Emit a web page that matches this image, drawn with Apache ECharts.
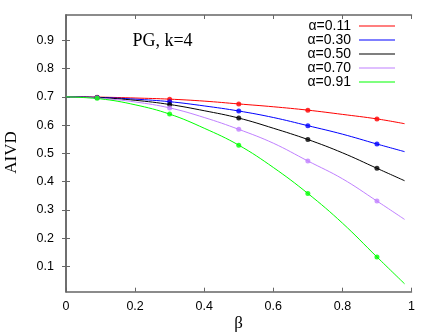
<!DOCTYPE html>
<html><head><meta charset="utf-8">
<script src="https://cdn.jsdelivr.net/npm/echarts@6/dist/echarts.min.js"></script>
<style>html,body{margin:0;padding:0;background:#fff}#c{width:436px;height:335px}</style>
</head><body><div id="c"></div>
<script>
const xLine = [0, 0.1, 0.2, 0.3, 0.4, 0.5, 0.6, 0.7, 0.8, 0.9, 0.98];
const xMark = [0.09, 0.3, 0.5, 0.7, 0.9];
const names = ['α=0.11', 'α=0.30', 'α=0.50', 'α=0.70', 'α=0.91'];
const colors = ['#ff0000', '#0000ff', '#000000', '#c080ff', '#00ff00'];
const line011 = [0.700, 0.699, 0.696, 0.692, 0.685, 0.675, 0.665, 0.653, 0.638, 0.622, 0.605];
const line030 = [0.700, 0.698, 0.692, 0.683, 0.668, 0.650, 0.627, 0.598, 0.568, 0.533, 0.506];
const line050 = [0.700, 0.697, 0.688, 0.673, 0.651, 0.625, 0.589, 0.549, 0.502, 0.447, 0.403];
const line070 = [0.700, 0.695, 0.682, 0.661, 0.627, 0.585, 0.536, 0.473, 0.410, 0.331, 0.266];
const line091 = [0.700, 0.693, 0.672, 0.639, 0.589, 0.529, 0.450, 0.358, 0.253, 0.133, 0.038];
const mark011 = [0.699, 0.692, 0.675, 0.653, 0.622];
const mark030 = [0.698, 0.683, 0.650, 0.598, 0.533];
const mark050 = [0.698, 0.673, 0.625, 0.549, 0.447];
const mark070 = [0.697, 0.661, 0.585, 0.473, 0.331];
const mark091 = [0.695, 0.639, 0.529, 0.358, 0.133];
const xTicks = [0, 0.2, 0.4, 0.6, 0.8, 1];
const yTicks = [0.1, 0.2, 0.3, 0.4, 0.5, 0.6, 0.7, 0.8, 0.9];

const lines = [line011, line030, line050, line070, line091];
const marks = [mark011, mark030, mark050, mark070, mark091];

const axisCol = '#666';
const lbl = {fontFamily: 'Liberation Sans', fontSize: 12.5, color: '#000'};
function xa(pos, show) {
  return {type: 'value', min: 0, max: 1, interval: 0.2, position: pos,
    axisLine: {show: true, lineStyle: {color: axisCol, width: 1.5}},
    axisTick: {show: true, inside: true, length: 4, lineStyle: {color: axisCol, width: 1}},
    axisLabel: Object.assign({show: show, margin: 8, formatter: v => (+v.toFixed(1)).toString()}, lbl),
    splitLine: {show: false}};
}
function ya(pos, show) {
  return {type: 'value', min: 0.01, max: 0.99, position: pos,
    axisLine: {show: true, lineStyle: {color: axisCol, width: 1.5}},
    axisTick: {show: true, inside: true, length: 4, customValues: yTicks, lineStyle: {color: axisCol, width: 1}},
    axisLabel: Object.assign({show: show, margin: 12, customValues: yTicks, formatter: v => v.toFixed(1)}, lbl),
    splitLine: {show: false}};
}
const series = [];
for (let i = 0; i < 5; i++) {
  series.push({name: names[i], type: 'line', xAxisIndex: 0, yAxisIndex: 0, smooth: 0.4,
    showSymbol: false, symbol: 'none', data: xLine.map((x, j) => [x, lines[i][j]]),
    lineStyle: {color: colors[i], width: 1}, itemStyle: {color: colors[i]}, z: 2 + i});
  series.push({name: 'm' + i, type: 'scatter', xAxisIndex: 0, yAxisIndex: 0,
    symbol: 'circle', symbolSize: 5, data: xMark.map((x, j) => [x, marks[i][j]]),
    itemStyle: {color: colors[i]}, z: 10 + i});
}
const chart = echarts.init(document.getElementById('c'), null, {renderer: 'canvas'});
chart.setOption({
  animation: false,
  backgroundColor: '#fff',
  grid: {left: 66, right: 24.5, top: 15, bottom: 43.3},
  xAxis: [xa('bottom', true), xa('top', false)],
  yAxis: [ya('left', true), ya('right', false)],
  legend: {data: names, orient: 'vertical', right: 41, top: 19, align: 'right', padding: 0,
    icon: 'rect', itemWidth: 36, itemHeight: 1.2, itemGap: 0,
    textStyle: {fontFamily: 'Liberation Sans', fontSize: 14, color: '#000', lineHeight: 13.6, padding: [0, 3, 0, 0]}},
  graphic: [
    {type: 'text', x: 162.5, y: 41, style: {text: 'PG, k=4', font: '18px "Liberation Serif"', fill: '#000', textAlign: 'center', textVerticalAlign: 'middle'}},
    {type: 'text', x: 12, y: 152.5, rotation: Math.PI / 2, style: {text: 'AIVD', font: '17px "Liberation Serif"', fill: '#000', textAlign: 'center', textVerticalAlign: 'middle'}},
    {type: 'text', x: 238.5, y: 324, style: {text: 'β', font: '17px "Liberation Serif"', fill: '#000', textAlign: 'center', textVerticalAlign: 'middle'}}
  ],
  series: series
});
</script></body></html>
